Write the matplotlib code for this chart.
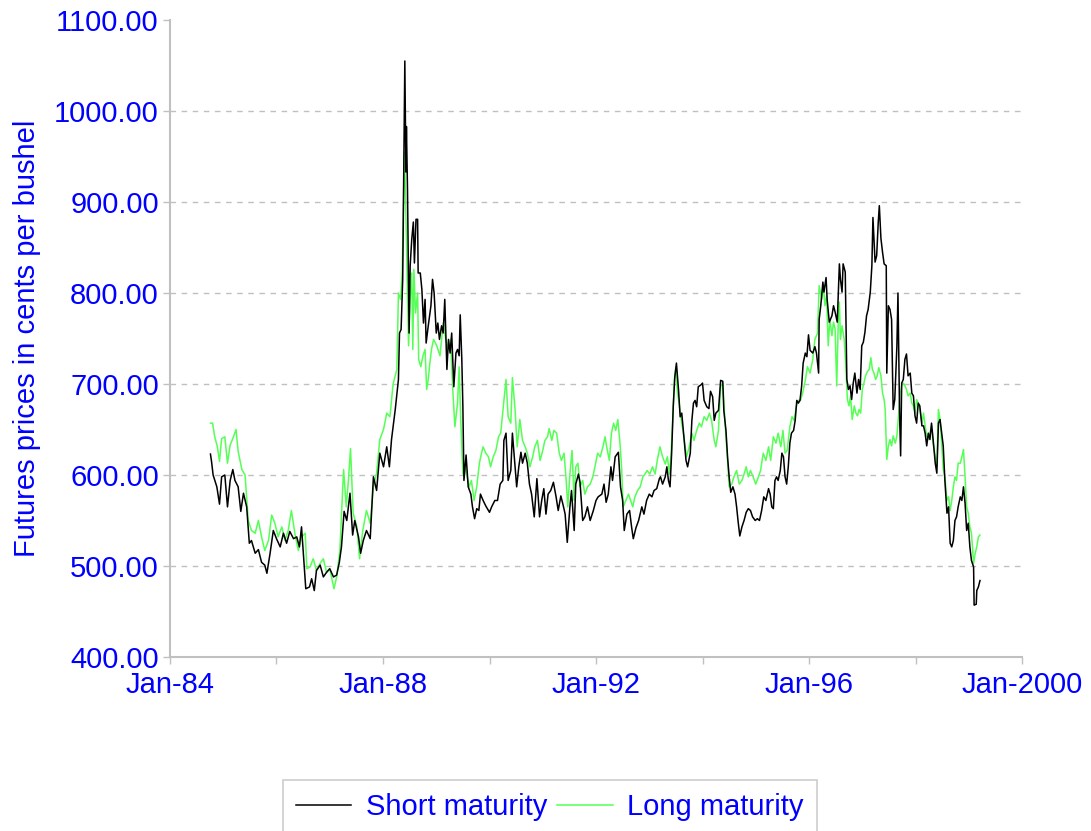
import matplotlib
matplotlib.use("Agg")
import matplotlib.pyplot as plt
from matplotlib.ticker import FixedLocator

# weekly futures prices (decimal years, cents per bushel)
short_t = [1984.76, 1984.78, 1984.81, 1984.88, 1984.93, 1984.97, 1985.03, 1985.08, 1985.13, 1985.18,
           1985.22, 1985.28, 1985.33, 1985.38, 1985.44, 1985.49, 1985.53, 1985.60, 1985.66, 1985.72,
           1985.78, 1985.82, 1985.88, 1985.94, 1986.00, 1986.07, 1986.13, 1986.19, 1986.25, 1986.32,
           1986.38, 1986.43, 1986.47, 1986.52, 1986.55, 1986.62, 1986.66, 1986.71, 1986.75, 1986.82,
           1986.88, 1986.94, 1987.00, 1987.07, 1987.13, 1987.18, 1987.22, 1987.27, 1987.32, 1987.38,
           1987.43, 1987.47, 1987.54, 1987.58, 1987.63, 1987.69, 1987.76, 1987.82, 1987.88, 1987.94,
           1988.01, 1988.07, 1988.12, 1988.16, 1988.23, 1988.29,
           1988.31, 1988.34, 1988.37, 1988.39, 1988.40, 1988.41, 1988.43, 1988.44, 1988.46, 1988.49,
           1988.51, 1988.54, 1988.57, 1988.59, 1988.62, 1988.65, 1988.66, 1988.70, 1988.73, 1988.76,
           1988.79, 1988.81, 1988.85, 1988.90, 1988.93, 1988.96, 1989.00, 1989.03, 1989.06, 1989.10,
           1989.13, 1989.16, 1989.20, 1989.23, 1989.26, 1989.29, 1989.33, 1989.37, 1989.40, 1989.43,
           1989.45, 1989.48, 1989.50,
           1989.52, 1989.56, 1989.60, 1989.65, 1989.68, 1989.72, 1989.76, 1989.80, 1989.83, 1989.88,
           1989.93, 1990.00, 1990.04, 1990.10, 1990.15, 1990.20, 1990.25, 1990.27, 1990.31, 1990.35,
           1990.40, 1990.43, 1990.47, 1990.51, 1990.55, 1990.59, 1990.62, 1990.67, 1990.71, 1990.75,
           1990.79, 1990.84, 1990.89, 1990.94, 1990.98, 1991.02, 1991.06, 1991.10, 1991.15, 1991.20,
           1991.25, 1991.29, 1991.34, 1991.39, 1991.42, 1991.46, 1991.51, 1991.54, 1991.59, 1991.62,
           1991.67, 1991.70, 1991.75, 1991.79, 1991.84, 1991.89, 1991.95, 1992.00, 1992.04, 1992.11,
           1992.15, 1992.19, 1992.23, 1992.28, 1992.31, 1992.36, 1992.42, 1992.46, 1992.50, 1992.53,
           1992.58, 1992.63, 1992.67, 1992.70, 1992.75, 1992.80, 1992.86, 1992.90, 1992.95, 1993.00,
           1993.05, 1993.09, 1993.14, 1993.19,
           1993.21, 1993.25, 1993.30, 1993.33, 1993.36, 1993.39, 1993.42, 1993.45, 1993.48, 1993.51,
           1993.55, 1993.58, 1993.61, 1993.65, 1993.69, 1993.72, 1993.77, 1993.80, 1993.83, 1993.86,
           1993.89, 1993.92, 1993.97, 1994.00, 1994.03, 1994.08, 1994.12, 1994.15, 1994.19, 1994.22,
           1994.25, 1994.30, 1994.34, 1994.38, 1994.40, 1994.44, 1994.47, 1994.50, 1994.53, 1994.57,
           1994.61, 1994.64, 1994.67, 1994.70, 1994.74, 1994.78, 1994.82, 1994.86, 1994.90, 1994.94,
           1994.99, 1995.03, 1995.07, 1995.11, 1995.15, 1995.19, 1995.24, 1995.27, 1995.30, 1995.33,
           1995.36, 1995.39, 1995.42, 1995.46, 1995.49, 1995.52, 1995.55, 1995.58, 1995.61, 1995.64,
           1995.67, 1995.71, 1995.74, 1995.77, 1995.80, 1995.83, 1995.86, 1995.89, 1995.93, 1995.96,
           1995.99, 1996.02, 1996.07, 1996.11, 1996.14, 1996.18,
           1996.19, 1996.22, 1996.26, 1996.28, 1996.32, 1996.34, 1996.38, 1996.43, 1996.46, 1996.49,
           1996.53, 1996.57, 1996.59, 1996.62, 1996.64, 1996.68, 1996.71, 1996.74, 1996.77, 1996.80,
           1996.83, 1996.86, 1996.90, 1996.93, 1996.96, 1996.99, 1997.02, 1997.05, 1997.08, 1997.11,
           1997.15, 1997.18, 1997.20, 1997.24, 1997.27, 1997.30, 1997.32, 1997.35, 1997.38, 1997.41,
           1997.45, 1997.46, 1997.49, 1997.52, 1997.55, 1997.58, 1997.61, 1997.65, 1997.67, 1997.70,
           1997.72, 1997.74, 1997.77, 1997.80, 1997.83, 1997.86, 1997.90, 1997.93, 1997.96, 1997.99,
           1998.02, 1998.05, 1998.08, 1998.12, 1998.15, 1998.18, 1998.21, 1998.24, 1998.27, 1998.30,
           1998.33, 1998.37, 1998.40, 1998.43, 1998.46, 1998.49, 1998.52, 1998.55,
           1998.59, 1998.62, 1998.65, 1998.68, 1998.71, 1998.74, 1998.77, 1998.80, 1998.84, 1998.87,
           1998.90, 1998.93, 1998.96, 1998.99, 1999.02, 1999.05, 1999.09, 1999.10, 1999.14, 1999.15,
           1999.18, 1999.21]
short_p = [623, 615, 600, 587, 568, 598, 600, 565, 594, 606,
           594, 587, 560, 580, 565, 525, 528, 514, 518, 504,
           501, 492, 514, 539, 530, 521, 536, 525, 538, 530,
           532, 521, 543, 501, 475, 477, 486, 473, 495, 501,
           488, 493, 497, 488, 490, 504, 521, 560, 550, 580,
           534, 550, 532, 514, 528, 539, 530, 598, 583, 624,
           609, 631, 609, 639, 672, 705,
           756, 760, 815, 933, 984, 1055, 933, 983, 914, 756,
           830, 859, 878, 833, 881, 881, 822, 822, 804, 767,
           793, 745, 764, 786, 815, 800, 756, 767, 749, 764,
           756, 793, 716, 749, 734, 756, 697, 734, 738, 731,
           776, 727, 675,
           594, 622, 587, 579, 565, 552, 563, 561, 579, 572,
           566, 559, 565, 572, 572, 590, 594, 638, 646, 594,
           605, 646, 616, 587, 609, 625, 613, 624, 613, 590,
           579, 554, 596, 554, 572, 585, 557, 579, 583, 592,
           576, 561, 577, 565, 557, 526, 565, 583, 539, 590,
           601, 592, 550, 554, 565, 550, 561, 572, 576, 579,
           590, 570, 579, 609, 594, 620, 625, 587, 572, 539,
           557, 561, 542, 530, 542, 550, 565, 557, 572, 579,
           576, 583, 585, 596,
           598, 590, 598, 609, 594, 587, 624, 675, 708, 723,
           693, 664, 668, 642, 616, 609, 624, 660, 679, 682,
           675, 697, 699, 701, 682, 675, 673, 692, 686, 660,
           668, 671, 704, 703, 671, 649, 620, 598, 581, 587,
           579, 565, 548, 533, 543, 550, 559, 563, 561, 554,
           550, 552, 550, 561, 576, 572, 585, 579, 565, 563,
           594, 598, 594, 605, 624, 620, 598, 590, 609, 635,
           646, 649, 660, 682, 679, 682, 697, 723, 734, 730,
           754, 737, 734, 741, 734, 712,
           771, 786, 812, 801, 817, 793, 768, 775, 786, 779,
           768, 832, 815, 801, 832, 823, 705, 694, 698, 683,
           701, 712, 690, 705, 694, 742, 746, 757, 775, 782,
           801, 830, 883, 834, 841, 878, 896, 860, 845, 832,
           830, 712, 786, 782, 771, 672, 683, 742, 800, 668,
           621, 701, 705, 727, 733, 709, 712, 690, 687, 665,
           657, 679, 676, 654, 654, 646, 632, 646, 639, 657,
           639, 613, 602, 657, 661, 646, 632, 595,
           558, 565, 525, 521, 528, 550, 554, 565, 576, 572,
           587, 569, 539, 547, 521, 506, 499, 457, 458, 473,
           477, 484]

long_t = [1984.76, 1984.80, 1984.84, 1984.89, 1984.93, 1984.97, 1985.03, 1985.08, 1985.13, 1985.18,
          1985.24, 1985.28, 1985.35, 1985.41, 1985.47, 1985.53, 1985.60, 1985.66, 1985.72, 1985.78,
          1985.85, 1985.91, 1985.97, 1986.03, 1986.10, 1986.16, 1986.22, 1986.28, 1986.35, 1986.41,
          1986.47, 1986.54, 1986.57, 1986.63, 1986.69, 1986.75, 1986.82, 1986.88, 1986.94, 1987.00,
          1987.08, 1987.13, 1987.19, 1987.26, 1987.31, 1987.35, 1987.39, 1987.44, 1987.51, 1987.56,
          1987.62, 1987.69, 1987.76, 1987.82, 1987.88, 1987.94, 1988.01, 1988.07, 1988.13, 1988.19,
          1988.26, 1988.29, 1988.33, 1988.36, 1988.38, 1988.40, 1988.42, 1988.44, 1988.48, 1988.51,
          1988.54, 1988.56, 1988.58, 1988.61, 1988.65, 1988.67, 1988.71, 1988.75, 1988.79, 1988.82,
          1988.85, 1988.88, 1988.91, 1988.95, 1989.01, 1989.07, 1989.13, 1989.18, 1989.23, 1989.27,
          1989.31, 1989.35, 1989.40, 1989.43, 1989.46,
          1989.50, 1989.54, 1989.58, 1989.62, 1989.66, 1989.71, 1989.76, 1989.81, 1989.85, 1989.88,
          1989.93, 1989.98, 1990.02, 1990.07, 1990.12, 1990.17, 1990.21, 1990.26, 1990.31, 1990.35,
          1990.40, 1990.43, 1990.48, 1990.52, 1990.57, 1990.62, 1990.67, 1990.71, 1990.76, 1990.81,
          1990.85, 1990.90, 1990.95, 1991.00, 1991.04, 1991.09, 1991.12, 1991.17, 1991.21, 1991.26,
          1991.31, 1991.35, 1991.40, 1991.44, 1991.47, 1991.51, 1991.55, 1991.59, 1991.62, 1991.66,
          1991.70, 1991.75, 1991.79, 1991.84, 1991.89, 1991.94, 1991.98, 1992.03, 1992.08, 1992.13,
          1992.17, 1992.20, 1992.25, 1992.29, 1992.33, 1992.37, 1992.41, 1992.45, 1992.48, 1992.51,
          1992.56, 1992.61, 1992.65, 1992.69, 1992.73, 1992.78, 1992.83, 1992.88, 1992.92, 1992.96,
          1993.01, 1993.06, 1993.11, 1993.15, 1993.20,
          1993.25, 1993.30, 1993.34, 1993.38, 1993.41, 1993.44, 1993.47, 1993.50, 1993.53, 1993.56,
          1993.61, 1993.65, 1993.70, 1993.75, 1993.80, 1993.84, 1993.89, 1993.94, 1993.98, 1994.03,
          1994.08, 1994.13, 1994.17, 1994.22, 1994.25, 1994.30, 1994.34, 1994.38, 1994.42, 1994.47,
          1994.50, 1994.55, 1994.59, 1994.64, 1994.69, 1994.74, 1994.78, 1994.82, 1994.86, 1994.90,
          1994.95, 1995.00, 1995.05, 1995.09, 1995.14, 1995.19, 1995.24, 1995.28, 1995.33, 1995.38,
          1995.42, 1995.47, 1995.51, 1995.55, 1995.59, 1995.64, 1995.68, 1995.72, 1995.76, 1995.80,
          1995.84, 1995.88, 1995.93, 1995.97, 1996.02, 1996.07, 1996.11, 1996.16,
          1996.19, 1996.24, 1996.27, 1996.30, 1996.33, 1996.36, 1996.39, 1996.43, 1996.46, 1996.49,
          1996.52, 1996.55, 1996.57, 1996.59, 1996.62, 1996.66, 1996.69, 1996.72, 1996.75, 1996.78,
          1996.81, 1996.85, 1996.88, 1996.91, 1996.94, 1996.97, 1997.00, 1997.03, 1997.06, 1997.10,
          1997.13, 1997.16, 1997.19, 1997.22, 1997.25, 1997.28, 1997.31, 1997.35, 1997.38, 1997.41,
          1997.43, 1997.46, 1997.49, 1997.52, 1997.55, 1997.58, 1997.62, 1997.65, 1997.68, 1997.71,
          1997.74, 1997.77, 1997.80, 1997.83, 1997.86, 1997.90, 1997.93, 1997.96, 1997.99, 1998.02,
          1998.05, 1998.08, 1998.12, 1998.15, 1998.18, 1998.21, 1998.24, 1998.27, 1998.30, 1998.33,
          1998.37, 1998.40, 1998.43, 1998.46, 1998.49, 1998.52, 1998.55,
          1998.59, 1998.62, 1998.65, 1998.68, 1998.71, 1998.74, 1998.77, 1998.80, 1998.84, 1998.87,
          1998.90, 1998.93, 1998.96, 1998.99, 1999.02, 1999.05, 1999.09, 1999.12, 1999.15, 1999.18,
          1999.21]
long_p = [657, 657, 642, 631, 615, 640, 642, 613, 633, 640,
          650, 626, 606, 600, 550, 539, 536, 550, 532, 517,
          528, 556, 547, 532, 543, 528, 539, 561, 534, 517,
          532, 536, 497, 499, 508, 495, 503, 508, 493, 497,
          475, 488, 517, 606, 565, 594, 629, 558, 543, 508,
          539, 561, 547, 587, 602, 639, 650, 668, 664, 700,
          716, 800, 793, 822, 881, 955, 914, 859, 742, 793,
          822, 738, 826, 778, 800, 727, 719, 731, 738, 694,
          705, 723, 738, 749, 742, 731, 767, 749, 738, 749,
          694, 653, 679, 719, 660,
          601, 609, 598, 587, 594, 572, 587, 613, 624, 631,
          624, 620, 609, 620, 627, 642, 646, 675, 705, 664,
          657, 707, 672, 631, 661, 638, 631, 624, 609, 620,
          631, 638, 616, 627, 638, 642, 651, 638, 649, 646,
          624, 616, 624, 594, 565, 601, 627, 572, 609, 613,
          587, 594, 579, 587, 590, 598, 609, 624, 620, 631,
          642, 631, 616, 646, 657, 649, 661, 635, 609, 565,
          572, 579, 572, 565, 576, 583, 587, 598, 601, 605,
          601, 609, 601, 616, 631,
          620, 612, 620, 601, 624, 660, 704, 719, 690, 679,
          657, 642, 620, 631, 646, 638, 649, 657, 653, 664,
          660, 668, 660, 638, 631, 649, 697, 701, 660, 616,
          587, 590, 598, 605, 590, 594, 601, 609, 598, 605,
          598, 590, 598, 605, 624, 616, 631, 616, 642, 635,
          646, 631, 649, 624, 627, 653, 664, 660, 675, 682,
          682, 690, 704, 719, 712, 727, 749, 756,
          808, 793, 808, 786, 797, 742, 771, 753, 768, 760,
          698, 771, 790, 749, 764, 749, 720, 683, 676, 687,
          661, 676, 668, 665, 672, 668, 694, 701, 709, 714,
          716, 729, 716, 712, 705, 709, 718, 709, 690, 683,
          672, 617, 632, 639, 632, 643, 635, 643, 665, 690,
          698, 701, 698, 694, 687, 690, 679, 676, 668, 683,
          679, 672, 657, 668, 654, 643, 639, 646, 654, 635,
          621, 610, 672, 661, 635, 606, 599,
          572, 576, 561, 572, 587, 598, 594, 613, 613, 620,
          628, 598, 565, 558, 543, 536, 503, 514, 521, 532,
          534]

year_ticks = [1984, 1988, 1992, 1996, 2000]
year_labels = ["Jan-84", "Jan-88", "Jan-92", "Jan-96", "Jan-2000"]
minor_years = [1986, 1990, 1994, 1998]
price_ticks = [400, 500, 600, 700, 800, 900, 1000, 1100]

plt.rcParams['font.family'] = ['Liberation Sans', 'DejaVu Sans']
blue = '#0000ff'
grey = '#c0c0c0'

fig = plt.figure(figsize=(10.91, 8.31), dpi=100)
ax = fig.add_axes([0.1558, 0.2094, 0.781, 0.7665])

for p in price_ticks[1:-1]:
    ax.axhline(p, color=grey, lw=1, ls=(0, (4, 4)), zorder=0)

ax.plot(short_t, short_p, color='black', lw=1.1, label='Short maturity', zorder=3)
ax.plot(long_t, long_p, color='#55ff55', lw=1.1, label='Long maturity', zorder=2)

ax.set_xlim(1984, 2000)
ax.set_ylim(400, 1100)
ax.set_xticks(year_ticks)
ax.set_xticklabels(year_labels)
ax.xaxis.set_minor_locator(FixedLocator(minor_years))
ax.set_yticks(price_ticks)
ax.set_yticklabels(["%.2f" % p for p in price_ticks])

for s in ['top', 'right']:
    ax.spines[s].set_visible(False)
for s in ['left', 'bottom']:
    ax.spines[s].set_color(grey)
    ax.spines[s].set_linewidth(1.5)

ax.tick_params(axis='both', which='both', colors=grey, labelcolor=blue, labelsize=21,
               length=5, width=1)
ax.tick_params(axis='x', pad=5)
ax.tick_params(axis='y', pad=3)

ax.set_ylabel("Futures prices in cents per bushel", color=blue, fontsize=21)
ax.yaxis.set_label_coords(-0.151, 0.5)

leg = fig.legend(loc='upper center', bbox_to_anchor=(0.504, 0.061), ncol=2, fontsize=21,
                 frameon=True, fancybox=False, edgecolor=grey, handlelength=1.9,
                 handletextpad=0.5, columnspacing=0.35, borderpad=0.45, borderaxespad=0)
leg.get_frame().set_linewidth(1.2)
for t in leg.get_texts():
    t.set_color(blue)

fig.savefig("out.png", dpi=100)
